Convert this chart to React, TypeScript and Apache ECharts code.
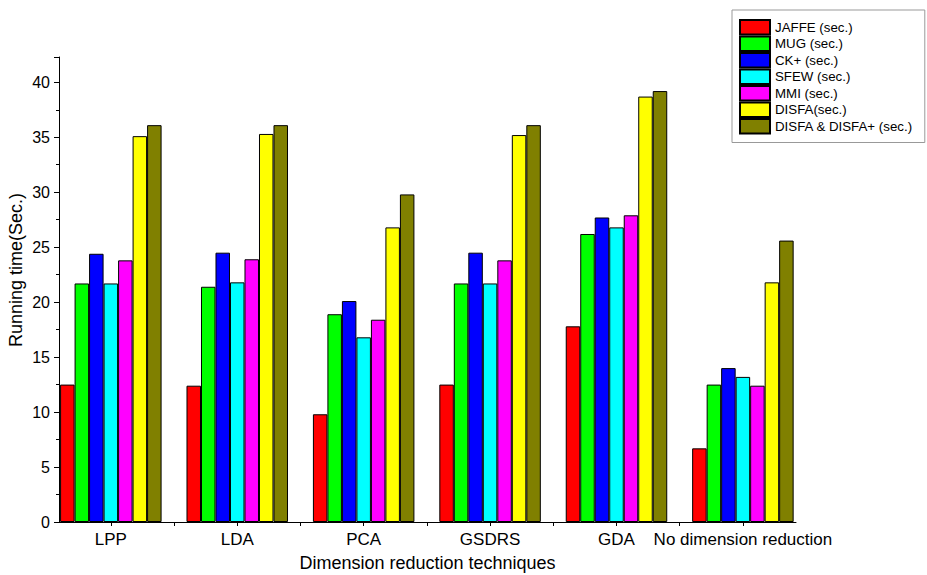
import React, { useEffect, useRef } from "react";
import * as echarts from "echarts";

const categories = ["LPP", "LDA", "PCA", "GSDRS", "GDA", "No dimension reduction"];
const seriesNames = [
  "JAFFE (sec.)",
  "MUG (sec.)",
  "CK+ (sec.)",
  "SFEW (sec.)",
  "MMI (sec.)",
  "DISFA(sec.)",
  "DISFA & DISFA+ (sec.)",
];
const colors = ["#ff0000", "#00ff00", "#0000ff", "#00ffff", "#ff00ff", "#ffff00", "#808000"];
const jaffe = [12.5, 12.4, 9.8, 12.5, 17.8, 6.7];
const mug = [21.7, 21.4, 18.9, 21.7, 26.2, 12.5];
const ckPlus = [24.4, 24.5, 20.1, 24.5, 27.7, 14.0];
const sfew = [21.7, 21.8, 16.8, 21.7, 26.8, 13.2];
const mmi = [23.8, 23.9, 18.4, 23.8, 27.9, 12.4];
const disfa = [35.1, 35.3, 26.8, 35.2, 38.7, 21.8];
const disfaPlus = [36.1, 36.1, 29.8, 36.1, 39.2, 25.6];
const allSeries = [jaffe, mug, ckPlus, sfew, mmi, disfa, disfaPlus];

const FONT = "Liberation Sans";

export default function App() {
  const ref = useRef<HTMLDivElement>(null);
  useEffect(() => {
    if (!ref.current) return;
    const chart = echarts.init(ref.current, undefined, { renderer: "svg" });
    const positions = categories.map((_, i) => i + 1);
    const tickValues: number[] = [];
    for (let v = 1; v <= 6; v += 0.5) tickValues.push(v);
    chart.setOption({
      animation: false,
      textStyle: { fontFamily: FONT },
      grid: {
        left: 59,
        top: 57,
        right: 131,
        bottom: 53,
        containLabel: false,
        outerBoundsMode: "none",
      },
      legend: {
        data: seriesNames,
        orient: "vertical",
        left: 732,
        top: 10,
        padding: [9, 12, 8, 7],
        itemWidth: 30,
        itemHeight: 14.5,
        itemGap: 0,
        borderColor: "#999",
        borderWidth: 1,
        icon: "rect",
        textStyle: { fontSize: 13.3, lineHeight: 14, color: "#000", fontFamily: FONT },
      },
      xAxis: {
        type: "value",
        min: 0.59,
        max: 6.42,
        name: "Dimension reduction techniques",
        nameLocation: "middle",
        nameGap: 32,
        nameTextStyle: { fontSize: 18, color: "#000", fontFamily: FONT },
        splitLine: { show: false },
        axisLine: { show: true, lineStyle: { color: "#000", width: 1 } },
        axisTick: { show: true, customValues: tickValues, length: 4, lineStyle: { color: "#000" } },
        axisLabel: {
          customValues: positions,
          fontSize: 17,
          color: "#000",
          margin: 9,
          fontFamily: FONT,
          formatter: (v: number) => categories[Math.round(v) - 1] ?? "",
        },
      },
      yAxis: {
        type: "value",
        min: 0,
        max: 42.3,
        interval: 5,
        splitLine: { show: false },
        axisLine: { show: true, lineStyle: { color: "#000", width: 1 } },
        axisTick: { show: true, length: 5, lineStyle: { color: "#000" } },
        minorTick: { show: true, splitNumber: 2, length: 3, lineStyle: { color: "#000" } },
        axisLabel: {
          fontSize: 16,
          color: "#000",
          margin: 9,
          fontFamily: FONT,
          formatter: (v: number) => (v % 5 === 0 && v <= 40 ? String(v) : ""),
        },
      },
      graphic: [
        {
          type: "text",
          x: 16,
          y: 270,
          rotation: Math.PI / 2,
          style: {
            text: "Running time(Sec.)",
            fontSize: 18,
            fill: "#000",
            fontFamily: FONT,
            align: "center",
            verticalAlign: "middle",
          },
        },
      ],
      series: allSeries.map((vals, si) => ({
        name: seriesNames[si],
        type: "bar",
        barWidth: 14.5,
        barGap: "0%",
        data: vals.map((v, i) => [positions[i], v]),
        itemStyle: { color: colors[si], borderColor: "#000", borderWidth: 1 },
      })),
    });
    return () => chart.dispose();
  }, []);
  return <div ref={ref} style={{ width: 927, height: 575, position: "absolute", left: 0, top: 0 }} />;
}
